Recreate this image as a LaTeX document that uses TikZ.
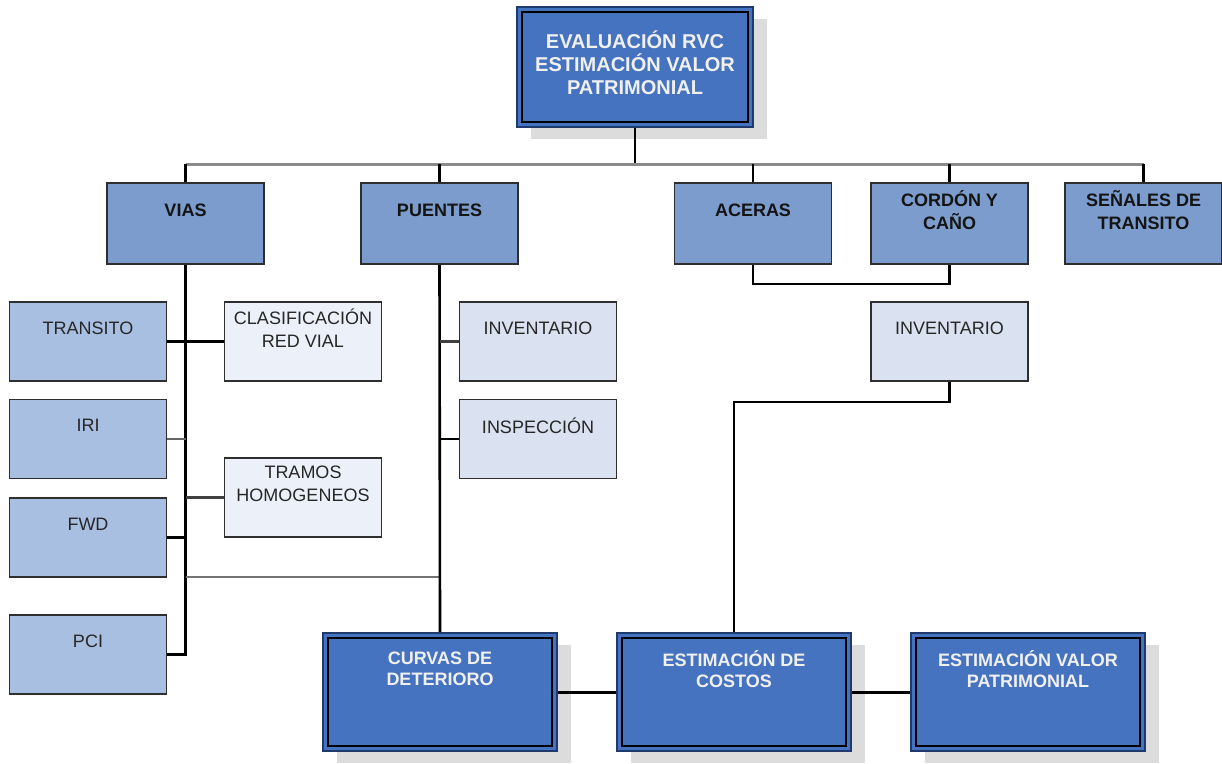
\documentclass[tikz,border=0pt]{standalone}
\usepackage{fontspec}
\setmainfont{Liberation Sans}
\usetikzlibrary{shadows}
\definecolor{midblue}{HTML}{7B9CCC}
\definecolor{paleblue}{HTML}{A9BFE1}
\definecolor{whiteblue}{HTML}{ECF0F8}
\definecolor{greyblue}{HTML}{DAE1F0}
\definecolor{darkblue}{HTML}{4673BF}
\definecolor{navy}{HTML}{1F3A6E}
\definecolor{shadowc}{HTML}{DCDCDC}
\definecolor{bordc}{HTML}{2E2E2E}
\definecolor{txtc}{HTML}{262626}
\definecolor{busc}{HTML}{8A8A8A}
\begin{document}
\begin{tikzpicture}[x=1pt,y=-1pt,
  box/.style={draw=bordc, line width=1.6pt, inner sep=0pt},
  lvtwo/.style={box, fill=midblue, minimum width=157pt, minimum height=81pt},
  lvleaf/.style={box, minimum width=157pt, minimum height=79pt},
  darkbox/.style={draw=navy, line width=2pt, fill=darkblue, inner sep=0pt,
    general shadow={fill=shadowc, shadow xshift=14pt, shadow yshift=-12pt},
    path picture={\draw[black, line width=1.8pt]
      ([xshift=5pt,yshift=-5pt]path picture bounding box.north west) rectangle
      ([xshift=-5pt,yshift=5pt]path picture bounding box.south east);}},
  ttop/.style={font=\fontsize{20}{23}\selectfont\bfseries, text=white!94!black, align=center, inner sep=0pt, yshift=2pt},
  ttwo/.style={font=\fontsize{18}{23}\selectfont\bfseries, text=black!92, align=center, inner sep=0pt, yshift=13pt},
  tleaf/.style={font=\fontsize{18}{23}\selectfont, text=txtc, align=center, inner sep=0pt, yshift=13.5pt},
  tdark/.style={font=\fontsize{18}{21}\selectfont\bfseries, text=white!94!black, align=center, inner sep=0pt, yshift=11.5pt},
  blk/.style={draw=black, line width=2.6pt},
  thickblk/.style={draw=black, line width=3pt},
  dgrayl/.style={draw=black!75, line width=2.4pt},
  grayl/.style={draw=black!55, line width=2pt},
  thingray/.style={draw=black!60, line width=1.3pt},
  thinblk/.style={draw=black, line width=1.3pt},
  busline/.style={draw=busc, line width=3pt}
]
\path[use as bounding box, fill=white] (0,0) rectangle (1222,763);

% top
\node[darkbox, minimum width=236pt, minimum height=120pt] (root) at (635,67)
  {} ;
\node[ttop] (roottxt) at ([yshift=2pt]root.center) {EVALUACIÓN RVC\\ESTIMACIÓN VALOR\\PATRIMONIAL};

% level 2
\node[lvtwo, label={[ttwo]center:VIAS}] (vias) at (185.5,223.5) {};
\node[lvtwo, label={[ttwo]center:PUENTES}] (puentes) at (439.5,223.5) {};
\node[lvtwo, label={[ttwo]center:ACERAS}] (aceras) at (753,223.5) {};
\node[lvtwo, label={[ttwo]center:CORDÓN Y\\CAÑO}] (cordon) at (949.5,223.5) {};
\node[lvtwo, label={[ttwo]center:SEÑALES DE\\TRANSITO}] (senales) at (1143.5,223.5) {};

% vias children
\node[lvleaf, fill=paleblue, label={[tleaf]center:TRANSITO}] (transito) at (88,341.5) {};
\node[lvleaf, fill=paleblue, label={[tleaf]center:IRI}] (iri) at (88,439) {};
\node[lvleaf, fill=paleblue, label={[tleaf]center:FWD}] (fwd) at (88,537.5) {};
\node[lvleaf, fill=paleblue, label={[tleaf]center:PCI}] (pci) at (88,654.5) {};
\node[lvleaf, fill=whiteblue, label={[tleaf]center:CLASIFICACIÓN\\RED VIAL}] (clasif) at (303,341.5) {};
\node[lvleaf, fill=whiteblue, label={[tleaf]center:TRAMOS\\HOMOGENEOS}] (tramos) at (303,497.5) {};

% puentes children
\node[lvleaf, fill=greyblue, label={[tleaf]center:INVENTARIO}] (invp) at (538,341.5) {};
\node[lvleaf, fill=greyblue, label={[tleaf]center:INSPECCIÓN}] (insp) at (538,439) {};

% aceras / cordon child
\node[lvleaf, fill=greyblue, label={[tleaf]center:INVENTARIO}] (invc) at (949.5,341.5) {};

% bottom row
\node[darkbox, minimum width=234pt, minimum height=118pt] (curvas) at (440,692) {};
\node[tdark] (curvastxt) at ([yshift=11.5pt]curvas.center) {CURVAS DE\\DETERIORO};
\node[darkbox, minimum width=234pt, minimum height=118pt] (costos) at (734,692) {};
\node[tdark] (costostxt) at ([yshift=11.5pt]costos.center) {ESTIMACIÓN DE\\COSTOS};
\node[darkbox, minimum width=234pt, minimum height=118pt] (valor) at (1028,692) {};
\node[tdark] (valortxt) at ([yshift=11.5pt]valor.center) {ESTIMACIÓN VALOR\\PATRIMONIAL};

% connectors
\coordinate (bus) at (636,164);
\coordinate (gj) at (439.5,577);
\draw[blk] (root.south) -- (root.south |- bus);
\draw[busline] (vias.north |- bus) -- (senales.north |- bus);
\foreach \n in {vias,puentes,aceras,cordon,senales}
  \draw[blk] (\n.north) -- (\n.north |- bus);

\draw[blk, line join=miter] (vias.south) -- (vias.south |- pci.east) -- (pci.east);
\draw[blk] (transito.east) -- (clasif.west);
\draw[thingray] (iri.east) -- (iri.east -| vias.south);
\draw[dgrayl] (tramos.west) -- (tramos.west -| vias.south);
\draw[thickblk] (fwd.east) -- (fwd.east -| vias.south);
\draw[grayl] (gj -| vias.south) -- (gj);

\draw[blk] (puentes.south) -- (curvas.north);
\draw[dgrayl] (invp.west) -- (invp.west -| puentes.south);
\draw[thinblk] (insp.west) -- (insp.west -| puentes.south);

\draw[blk, line join=miter] (aceras.south) -- ++(0,19) -| (cordon.south);
\draw[blk, line join=miter] (invc.south) -- ++(0,20) -| (costos.north);

\draw[thickblk] (curvas.east) -- (costos.west);
\draw[thickblk] (costos.east) -- (valor.west);
\end{tikzpicture}
\end{document}
